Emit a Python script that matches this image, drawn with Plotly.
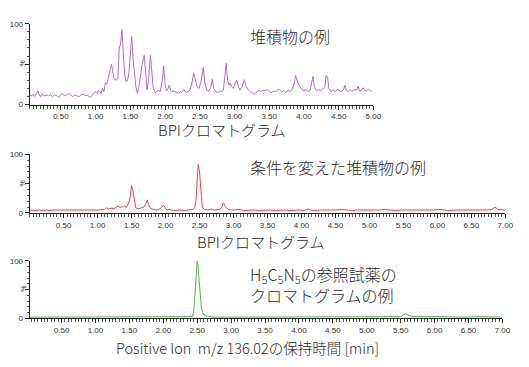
import plotly.graph_objects as go

# ---------------- data ----------------
t1 = [0.05,0.08,0.10,0.12,0.15,0.17,0.19,0.21,0.23,0.26,0.29,0.32,0.35,0.38,0.41,0.44,0.47,0.50,0.52,0.55,
      0.58,0.61,0.64,0.67,0.70,0.73,0.76,0.79,0.82,0.85,0.88,0.91,0.94,0.97,1.00,1.02,1.04,1.06,1.08,1.10,
      1.12,1.14,1.16,1.18,1.20,1.23,1.26,1.29,1.32,1.34,1.36,1.38,1.40,1.42,1.44,1.46,1.48,1.50,1.52,1.54,
      1.56,1.58,1.60,1.62,1.64,1.67,1.70,1.72,1.74,1.76,1.78,1.79,1.81,1.83,1.86,1.88,1.90,1.93,1.96,1.98,
      2.00,2.02,2.04,2.06,2.08,2.10,2.13,2.16,2.19,2.22,2.24,2.27,2.30,2.33,2.36,2.39,2.41,2.43,2.46,2.49,
      2.52,2.55,2.57,2.60,2.63,2.66,2.68,2.70,2.73,2.76,2.79,2.82,2.84,2.86,2.88,2.90,2.92,2.94,2.96,2.98,
      3.00,3.03,3.05,3.08,3.11,3.14,3.17,3.20,3.23,3.26,3.29,3.32,3.35,3.38,3.41,3.44,3.47,3.50,3.53,3.56,
      3.59,3.62,3.65,3.68,3.71,3.74,3.77,3.80,3.83,3.86,3.88,3.91,3.94,3.97,4.00,4.03,4.06,4.09,4.11,4.13,
      4.15,4.18,4.21,4.24,4.27,4.30,4.32,4.34,4.36,4.39,4.42,4.45,4.48,4.51,4.54,4.57,4.59,4.61,4.64,4.67,
      4.70,4.73,4.76,4.78,4.80,4.83,4.85,4.87,4.90,4.93,4.96,4.98]
v1 = [12,11,13,10,14,17,12,10,13,11,12,11,12,10,12,11,9,12,14,11,
      12,14,12,10,12,11,10,12,13,11,12,9,10,14,16,14,18,16,14,20,
      16,27,25,32,38,50,34,30,32,70,75,93,60,35,28,30,40,62,84,55,
      35,22,14,20,32,50,61,40,18,30,55,61,40,20,15,17,18,16,30,48,
      25,17,19,24,18,16,17,15,14,16,15,19,15,16,18,28,39,33,22,20,
      30,46,28,18,17,22,32,20,16,15,17,16,18,35,51,30,24,27,22,20,
      25,30,24,18,22,31,22,18,16,15,13,15,18,16,18,17,19,16,15,17,
      16,18,19,16,17,15,18,16,19,26,36,27,22,19,17,19,16,18,27,35,
      22,17,19,17,19,22,36,34,20,16,18,16,19,17,16,19,24,18,16,18,
      16,19,18,23,17,18,21,18,17,19,17,17]

t2 = [0.00,0.05,0.10,0.15,0.20,0.25,0.30,0.35,0.40,0.45,0.50,0.55,0.60,0.65,0.70,0.75,0.80,0.85,0.90,0.95,
      1.00,1.05,1.10,1.13,1.16,1.20,1.24,1.27,1.30,1.33,1.36,1.38,1.40,1.42,1.44,1.46,1.48,1.50,1.52,1.54,
      1.56,1.60,1.64,1.68,1.71,1.73,1.75,1.78,1.82,1.86,1.90,1.94,1.96,1.98,2.00,2.03,2.05,2.08,2.12,2.16,
      2.20,2.25,2.30,2.35,2.40,2.43,2.45,2.47,2.48,2.50,2.52,2.54,2.57,2.62,2.66,2.68,2.71,2.75,2.80,2.83,
      2.85,2.88,2.92,2.97,3.02,3.08,3.15,3.22,3.30,3.38,3.45,3.52,3.60,3.68,3.75,3.82,3.90,3.97,4.04,4.10,
      4.14,4.20,4.28,4.35,4.42,4.50,4.58,4.66,4.74,4.82,4.90,4.98,5.06,5.14,5.22,5.30,5.38,5.46,5.54,5.62,
      5.70,5.78,5.86,5.94,6.02,6.10,6.18,6.26,6.34,6.42,6.50,6.58,6.66,6.74,6.80,6.85,6.89,6.94,7.00]
v2 = [5,4,4,5,4,5,4,5,5,4,5,4,5,5,4,5,4,5,5,4,
      5,5,6,9,7,8,7,9,12,9,11,10,12,9,13,18,28,47,38,18,
      9,7,8,10,16,22,14,8,6,5,6,9,13,12,7,5,7,5,4,5,
      5,4,5,5,6,9,25,65,83,70,30,10,6,5,6,7,5,5,6,10,
      17,11,6,5,5,6,4,5,5,4,5,5,4,5,5,4,5,5,4,7,
      5,4,5,5,4,5,6,5,4,5,5,4,5,5,6,5,4,5,5,4,
      5,5,4,5,6,5,4,5,5,4,5,5,4,5,6,10,6,5,5]

t3 = [0.03,0.20,0.40,0.60,0.80,1.00,1.20,1.40,1.60,1.80,2.00,2.20,2.40,2.43,2.45,2.47,2.48,2.49,2.50,2.51,
      2.52,2.53,2.54,2.56,2.58,2.60,2.63,2.67,2.75,2.90,3.10,3.40,3.70,4.00,4.30,4.60,4.90,5.20,5.40,5.50,
      5.54,5.57,5.60,5.64,5.70,5.80,5.86,5.92,6.10,6.40,6.70,7.00]
v3 = [2,2,2,2,2,2,2,2,2,2,2,2,2,3,12,45,75,95,100,93,
      75,55,38,20,10,6,4,3,2,2,2,2,2,2,2,2,2,2,2,3,
      6,8,6,4,3,3,4,3,3,2,3,2]

xticks1 = [0.5,1.0,1.5,2.0,2.5,3.0,3.5,4.0,4.5,5.0]
xticks23 = [0.5,1.0,1.5,2.0,2.5,3.0,3.5,4.0,4.5,5.0,5.5,6.0,6.5,7.0]
yticks = [0, 50, 100]
ylabels = ["0", "", "100"]

colors = ["#b46cc6", "#e8434c", "#58b058"]

# ---------------- figure ----------------
W, H = 529, 367
OFF = 8  # page body margin
def px(x): return (x - OFF) / W
def py(y): return 1 - (y - OFF) / H

fig = go.Figure()
fig.add_trace(go.Scatter(x=t1, y=v1, mode="lines", line=dict(color=colors[0], width=1), xaxis="x", yaxis="y"))
fig.add_trace(go.Scatter(x=t2, y=v2, mode="lines", line=dict(color=colors[1], width=1), xaxis="x2", yaxis="y2"))
fig.add_trace(go.Scatter(x=t3, y=v3, mode="lines", line=dict(color=colors[2], width=1), xaxis="x3", yaxis="y3"))

tickfont = dict(family="Liberation Sans, Arial", size=8, color="#333")

def xax(domain, rng, ticks, anchor):
    return dict(domain=domain, range=rng, anchor=anchor, tickmode="array", tickvals=ticks,
                ticktext=[f"{v:.2f}" for v in ticks], showgrid=False, zeroline=False,
                showline=True, linecolor="#222", linewidth=1, ticks="outside", ticklen=4,
                tickcolor="#222", tickfont=tickfont,
                minor=dict(tickmode="linear", tick0=0, dtick=0.05, ticks="outside", ticklen=3,
                           tickcolor="#555", tickwidth=1))

def yax(domain, anchor):
    return dict(domain=domain, range=[0, 100], anchor=anchor, tickmode="array", tickvals=yticks,
                ticktext=ylabels, showgrid=False, zeroline=False, showline=True, linecolor="#222",
                linewidth=1, ticks="outside", ticklen=4, tickcolor="#222", tickfont=tickfont,
                minor=dict(tickmode="linear", tick0=0, dtick=10, ticks="outside", ticklen=2,
                           tickcolor="#555", tickwidth=1))

fig.update_layout(
    width=W, height=H, margin=dict(l=0, r=0, t=0, b=0),
    paper_bgcolor="white", plot_bgcolor="white", showlegend=False,
    xaxis=xax([px(30), px(379)], [0.05, 5.0], xticks1, "y"),
    yaxis=yax([py(103), py(20)], "x"),
    xaxis2=xax([px(30), px(513)], [0.0, 7.0], xticks23, "y2"),
    yaxis2=yax([py(214), py(154)], "x2"),
    xaxis3=xax([px(30), px(510)], [0.03, 7.0], xticks23, "y3"),
    yaxis3=yax([py(322), py(263)], "x3"),
)

jp = "Noto Sans CJK JP"
tfont = dict(family=jp, size=15, color="#2a2a2a", weight=300)
afont = dict(family=jp, size=16, color="#2a2a2a", weight=300)
anns = [
    dict(text="BPIクロマトグラム", x=px(225), y=py(128), font=tfont),
    dict(text="BPIクロマトグラム", x=px(264), y=py(243), font=tfont),
    dict(text="Positive Ion  m/z 136.02の保持時間 [min]", x=px(251), y=py(352),
         font=dict(family=jp, size=14.5, color="#2a2a2a", weight=300)),
    dict(text="堆積物の例", x=px(252), y=py(33), font=afont, xanchor="left"),
    dict(text="条件を変えた堆積物の例", x=px(252), y=py(167), font=afont, xanchor="left"),
    dict(text="H<sub>5</sub>C<sub>5</sub>N<sub>5</sub>の参照試薬の<br>クロマトグラムの例",
         x=px(252), y=py(287), font=afont, xanchor="left", align="left"),
]
for ya in (py(61), py(184), py(292)):
    anns.append(dict(text="%", x=px(23), y=ya, textangle=-90,
                     font=dict(family="Liberation Sans", size=7, color="#333")))
for a in anns:
    a.setdefault("xanchor", "center")
    a.update(xref="paper", yref="paper", yanchor="middle", showarrow=False)
fig.update_layout(annotations=anns)

fig.write_html("out.html")
